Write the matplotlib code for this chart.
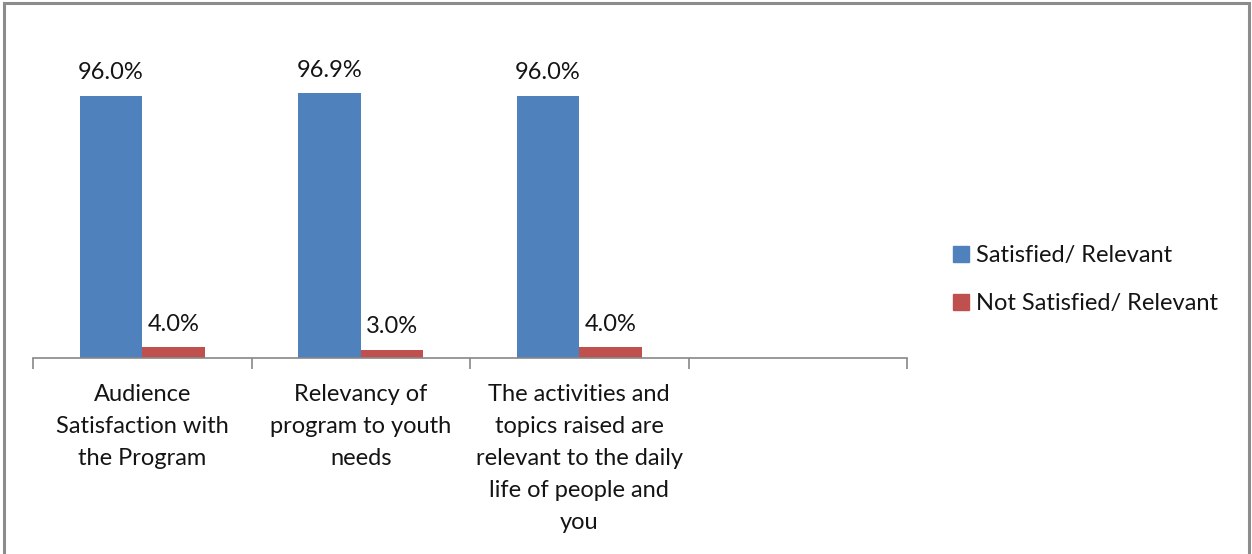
import matplotlib.pyplot as plt
from matplotlib.patches import Patch, Rectangle
from matplotlib.transforms import blended_transform_factory

plt.rcParams['font.family'] = ['Lato', 'DejaVu Sans']

categories = ["Audience\nSatisfaction with\nthe Program",
              "Relevancy of\nprogram to youth\nneeds",
              "The activities and\ntopics raised are\nrelevant to the daily\nlife of people and\nyou"]
satisfied = [0.960, 0.969, 0.960]
not_satisfied = [0.040, 0.030, 0.040]
series_names = ["Satisfied/ Relevant", "Not Satisfied/ Relevant"]

blue = "#4F81BD"
red = "#C0504D"
txt = "#141414"
grey = "#888888"
fs = 17

fig = plt.figure(figsize=(12.52, 5.54), dpi=100)
ax = fig.add_axes([33 / 1252, 196 / 554, 874 / 1252, 328 / 554])

w = 0.285
x = list(range(len(categories)))
b1 = ax.bar([i - w / 2 for i in x], satisfied, w, color=blue)
b2 = ax.bar([i + w / 2 for i in x], not_satisfied, w, color=red)

for bars, vals in ((b1, satisfied), (b2, not_satisfied)):
    for r, v in zip(bars, vals):
        ax.annotate(f"{v * 100:.1f}%", (r.get_x() + r.get_width() / 2, v),
                    xytext=(0, 9), textcoords="offset points",
                    ha="center", va="bottom", fontsize=fs, color=txt)

ax.set_xlim(-0.5, 3.5)
ax.set_ylim(0, 1.2)
for s in ("top", "right", "left"):
    ax.spines[s].set_visible(False)
ax.spines["bottom"].set_color(grey)
ax.spines["bottom"].set_linewidth(1.2)
ax.set_yticks([])
ax.set_xticks([-0.5, 0.5, 1.5, 2.5, 3.5])
ax.set_xticklabels([])
ax.tick_params(axis="x", length=8, color=grey, width=1.2)

trans = blended_transform_factory(ax.transData, ax.transAxes)
for i, c in enumerate(categories):
    ax.text(i, -0.08, c, transform=trans, ha="center", va="top",
            fontsize=fs, color=txt, linespacing=1.65)

handles = [Patch(color=blue), Patch(color=red)]
fig.legend(handles, series_names, loc="center left",
           bbox_to_anchor=(0.744, 0.495), frameon=False, fontsize=fs,
           handlelength=0.7, handleheight=0.7, handletextpad=0.3,
           labelspacing=1.15, labelcolor=txt)

fig.patches.append(Rectangle((0.003, -0.01), 0.995, 1.004, transform=fig.transFigure,
                             fill=False, edgecolor="#8c8c8c", linewidth=2.2))

fig.savefig("out.png", dpi=100)
